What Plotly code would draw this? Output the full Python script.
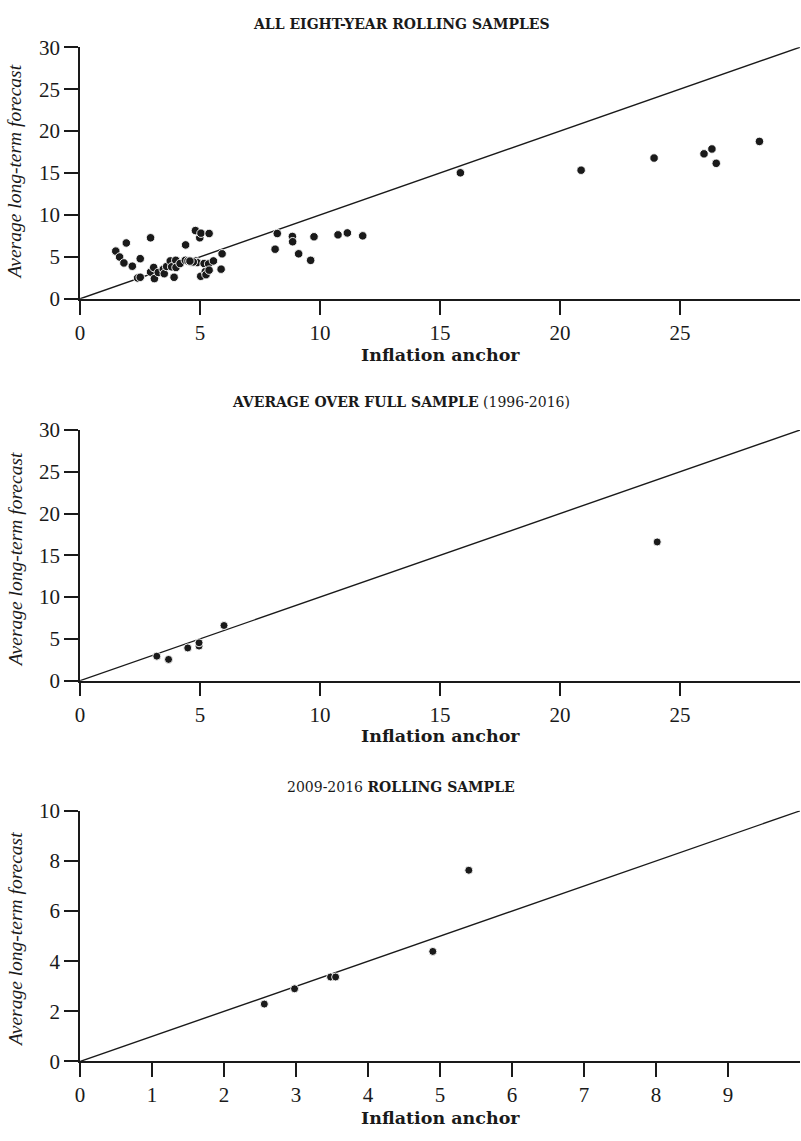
import plotly.graph_objects as go

# ---- data ----
top_x = [1.49, 1.65, 1.83, 1.93, 2.18, 2.51, 2.40, 2.51, 2.94, 2.94, 3.07, 3.10, 3.26, 3.47, 3.51,
         3.61, 3.76, 3.82, 3.92, 3.99, 4.00, 4.17, 4.40, 4.39, 4.50, 4.63, 4.81, 4.82, 4.88, 4.99,
         5.04, 5.03, 5.17, 5.22, 5.25, 5.36, 5.38, 5.38, 5.56, 5.88, 5.92, 4.72, 4.58,
         8.13, 8.22, 8.85, 8.86, 9.11, 9.61, 9.75, 10.75, 11.14, 11.78,
         15.85, 20.88, 23.92, 26.00, 26.33, 26.51, 28.31]
top_y = [5.69, 4.99, 4.28, 6.66, 3.89, 4.79, 2.49, 2.57, 7.28, 3.19, 3.74, 2.41, 3.15, 3.54, 3.00,
         3.86, 4.52, 3.82, 2.57, 4.59, 3.74, 4.21, 6.43, 4.59, 4.52, 4.40, 8.14, 4.52, 4.32, 7.28,
         7.83, 2.69, 4.21, 3.24, 2.88, 4.17, 7.79, 3.42, 4.52, 3.54, 5.37, 4.40, 4.50,
         5.92, 7.79, 7.44, 6.81, 5.37, 4.59, 7.40, 7.63, 7.86, 7.51,
         15.03, 15.34, 16.79, 17.29, 17.87, 16.16, 18.77]

mid_x = [3.20, 3.69, 4.49, 4.96, 4.96, 6.00, 24.05]
mid_y = [2.93, 2.54, 3.91, 4.14, 4.53, 6.60, 16.60]

bot_x = [2.56, 2.98, 3.48, 3.55, 4.90, 5.40]
bot_y = [2.29, 2.90, 3.37, 3.37, 4.39, 7.63]

diag_top = [0, 30]
diag_bot = [0, 10]

top_ticks = [0, 5, 10, 15, 20, 25]
top_yticks = [0, 5, 10, 15, 20, 25, 30]
bot_xticks = [0, 1, 2, 3, 4, 5, 6, 7, 8, 9]
bot_yticks = [0, 2, 4, 6, 8, 10]

titles = ["<b>ALL EIGHT-YEAR ROLLING SAMPLES</b>",
          "<b>AVERAGE OVER FULL SAMPLE</b> (1996-2016)",
          "2009-2016 <b>ROLLING SAMPLE</b>"]
xlabel = "<b>Inflation anchor</b>"
ylabel = "<i>Average long-term forecast</i>"

# ---- figure ----
W, H = 801, 1141
FONT = "Liberation Serif"
WIDE = "DejaVu Serif"
INK = "#1a1a1a"

fig = go.Figure()

def add_panel(xs, ys, diag, xa, ya, msize):
    fig.add_trace(go.Scatter(x=diag, y=diag, mode="lines", line=dict(color=INK, width=1.4),
                             xaxis=xa, yaxis=ya, showlegend=False, hoverinfo="skip"))
    fig.add_trace(go.Scatter(x=xs, y=ys, mode="markers",
                             marker=dict(color=INK, size=msize, line=dict(color="white", width=0.9)),
                             xaxis=xa, yaxis=ya, showlegend=False, cliponaxis=False))

add_panel(top_x, top_y, diag_top, "x", "y", 8.5)
add_panel(mid_x, mid_y, diag_top, "x2", "y2", 8)
add_panel(bot_x, bot_y, diag_bot, "x3", "y3", 8)

def py(p):
    return 1 - p / H

axis_common = dict(showline=True, linecolor=INK, linewidth=1.5, ticks="outside", ticklen=14,
                   tickwidth=1.5, tickcolor=INK, showgrid=False, zeroline=False,
                   tickfont=dict(family=FONT, size=21, color=INK), mirror=False)

domains = [(293, 36), (683, 427), (1072, 816)]
xaxes = [("xaxis", "y", [0, 30], top_ticks), ("xaxis2", "y2", [0, 30], top_ticks),
         ("xaxis3", "y3", [0, 10], bot_xticks)]
yaxes = [("yaxis", "x", [0, 30], top_yticks), ("yaxis2", "x2", [0, 30], top_yticks),
         ("yaxis3", "x3", [0, 10], bot_yticks)]

layout = dict(width=W, height=H, margin=dict(l=80, r=1, t=0, b=0),
              paper_bgcolor="white", plot_bgcolor="white", showlegend=False)
for (xn, anc, rng, tv), (yn, xanc, yr, ytv), (b, t) in zip(xaxes, yaxes, domains):
    layout[xn] = dict(axis_common, domain=[0, 1], anchor=anc, range=rng, tickvals=tv)
    layout[yn] = dict(axis_common, domain=[py(b), py(t)], anchor=xanc, range=yr, tickvals=ytv)
fig.update_layout(**layout)

ann = []
title_y = [12, 398, 792]
xlab_y = [350, 740, 1130]
ylab_c = [164, 560, 948]
for i in range(3):
    ann.append(dict(text=titles[i], x=(401 - 80) / 720, y=py(title_y[i]), xref="paper", yref="paper",
                    xanchor="center", yanchor="middle", showarrow=False,
                    font=dict(family=WIDE, size=14, color=INK)))
    ann.append(dict(text=xlabel, x=0.5, y=py(xlab_y[i]), xref="paper", yref="paper",
                    xanchor="center", yanchor="middle", showarrow=False,
                    font=dict(family=WIDE, size=17.5, color=INK)))
    ann.append(dict(text=ylabel, x=(15 - 80) / 720, y=py(ylab_c[i]), xref="paper", yref="paper",
                    xanchor="center", yanchor="middle", showarrow=False, textangle=-90,
                    font=dict(family=FONT, size=19.5, color=INK)))
fig.update_layout(annotations=ann)

fig.write_html("out.html")
